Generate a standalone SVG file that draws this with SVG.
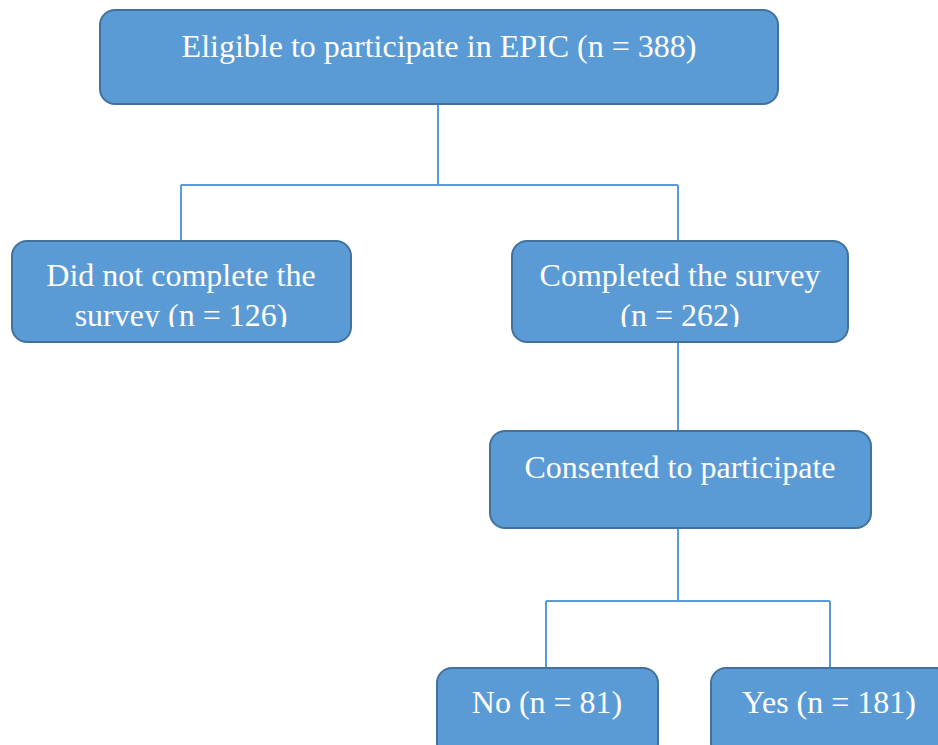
<svg xmlns="http://www.w3.org/2000/svg" width="938" height="745" viewBox="0 0 938 745">
<style>
.box{fill:#5B9BD5;stroke:#41719C;stroke-width:2}
.lbl{font-family:"Liberation Serif","Times New Roman",serif;font-size:32px;fill:#fff;text-anchor:middle}
.conn{fill:none;stroke:#5B9BD5;stroke-width:2}
</style>
<defs>
<clipPath id="clipL"><rect x="12" y="241" width="339" height="86"/></clipPath>
<clipPath id="clipR"><rect x="512" y="241" width="336" height="86"/></clipPath>
</defs>
<rect width="938" height="745" fill="#fff"/>
<g id="connectors">
<path class="conn" d="M438,104 V185 M181,185 H678 M181,185 V241 M678,185 V241"/>
<path class="conn" d="M678,342 V431"/>
<path class="conn" d="M678,528 V601 M546,601 H830 M546,601 V668 M830,601 V668"/>
</g>
<g id="eligible">
<rect class="box" x="100" y="10" width="678" height="94" rx="15"/>
<text class="lbl" x="439" y="57">Eligible to participate in EPIC (n = 388)</text>
</g>
<g id="not-completed">
<rect class="box" x="12" y="241" width="339" height="101" rx="15"/>
<g clip-path="url(#clipL)">
<text class="lbl" x="181" y="286">Did not complete the</text>
<text class="lbl" x="181" y="326">survey (n = 126)</text>
</g>
</g>
<g id="completed">
<rect class="box" x="512" y="241" width="336" height="101" rx="15"/>
<g clip-path="url(#clipR)">
<text class="lbl" x="680" y="286">Completed the survey</text>
<text class="lbl" x="680" y="326">(n = 262)</text>
</g>
</g>
<g id="consented">
<rect class="box" x="490" y="431" width="381" height="97" rx="15"/>
<text class="lbl" x="680" y="478">Consented to participate</text>
</g>
<g id="no">
<rect class="box" x="437" y="668" width="221" height="90" rx="15"/>
<text class="lbl" x="547" y="713">No (n = 81)</text>
</g>
<g id="yes">
<rect class="box" x="711" y="668" width="240" height="90" rx="15"/>
<text class="lbl" x="829" y="713">Yes (n = 181)</text>
</g>
</svg>
